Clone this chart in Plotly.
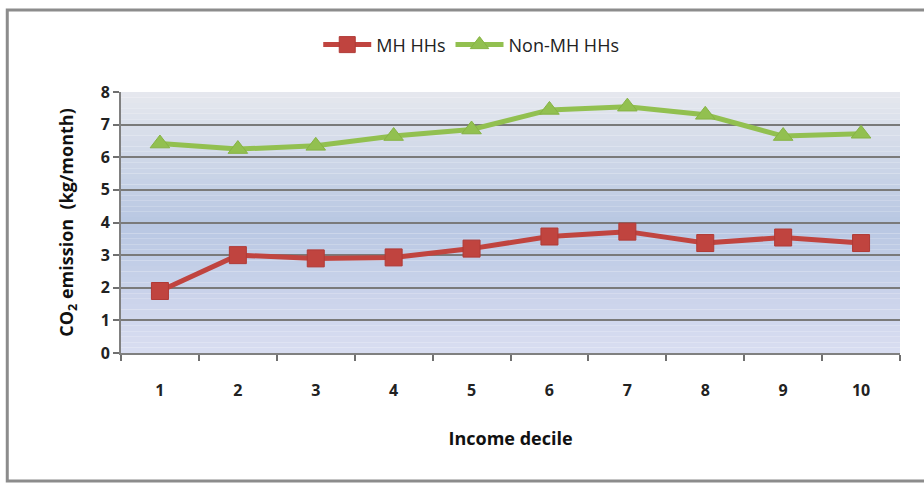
import plotly.graph_objects as go

# Income deciles and monthly CO2 emissions (kg/month)
deciles = ["1", "2", "3", "4", "5", "6", "7", "8", "9", "10"]
mh_hhs = [1.9, 3.0, 2.9, 2.93, 3.2, 3.57, 3.72, 3.37, 3.54, 3.37]
non_mh_hhs = [6.42, 6.25, 6.35, 6.65, 6.85, 7.45, 7.55, 7.3, 6.65, 6.72]
y_ticks = [0, 1, 2, 3, 4, 5, 6, 7, 8]

RED = "#c0443f"
GREEN = "#92c050"
FONT = "Open Sans"


def blend(c1, c2, t):
    a = [int(c1[i:i + 2], 16) for i in (1, 3, 5)]
    b = [int(c2[i:i + 2], 16) for i in (1, 3, 5)]
    return "#" + "".join(f"{round(x + (y - x) * t):02x}" for x, y in zip(a, b))


fig = go.Figure()
fig.add_trace(go.Scatter(
    x=deciles, y=mh_hhs, name="MH HHs", mode="lines+markers",
    line=dict(color=RED, width=5),
    marker=dict(symbol="square", size=17, color=RED,
                line=dict(color="#b03a36", width=1)),
))
fig.add_trace(go.Scatter(
    x=deciles, y=non_mh_hhs, name="Non-MH HHs", mode="lines+markers",
    line=dict(color=GREEN, width=5),
    marker=dict(symbol="triangle-up", size=17, color=GREEN,
                line=dict(color="#86b344", width=1)),
))

# smooth vertical gradient behind the plot area (top -> middle -> bottom)
stops = [(0.0, "#e6e8ee"), (0.5, "#b8c7e2"), (1.0, "#d9ddf1")]
steps = 48
shapes = []
for i in range(steps):
    t = (i + 0.5) / steps
    for (p0, c0), (p1, c1) in zip(stops[:-1], stops[1:]):
        if p0 <= t <= p1:
            col = blend(c0, c1, (t - p0) / (p1 - p0))
            break
    shapes.append(dict(
        type="rect", xref="x domain", yref="y domain",
        x0=0, x1=1, y0=1 - (i + 1) / steps, y1=1 - i / steps,
        fillcolor=col, line=dict(width=0), layer="below",
    ))
# outer chart frame
shapes.append(dict(
    type="rect", xref="paper", yref="paper",
    x0=-0.146, x1=1.04, y0=-0.49, y1=1.314,
    line=dict(color="#8c8c8c", width=3), fillcolor="rgba(0,0,0,0)",
    layer="below",
))

fig.update_layout(
    width=924, height=483,
    margin=dict(l=121, r=24, t=92, b=130, autoexpand=False),
    paper_bgcolor="white",
    plot_bgcolor="rgba(0,0,0,0)",
    font=dict(family=FONT, color="#222222", size=15),
    shapes=shapes,
    showlegend=True,
    legend=dict(
        orientation="h", xref="container", yref="container",
        x=0.51, xanchor="center", y=0.907, yanchor="middle",
        font=dict(family=FONT, size=18, color="#222222"),
        itemwidth=48, bgcolor="rgba(0,0,0,0)",
    ),
    xaxis=dict(
        type="category", range=[-0.5, 9.5],
        tickson="boundaries", ticks="outside", ticklen=6,
        tickcolor="#707070", tickwidth=2,
        showline=True, linecolor="#808080", linewidth=2,
        showgrid=False,
        ticklabelstandoff=22,
        tickfont=dict(family=FONT, size=16, color="#222222", weight="bold"),
        title=dict(text="<b>Income decile</b>",
                   font=dict(family=FONT, size=18, color="#111111"),
                   standoff=32),
    ),
    yaxis=dict(
        range=[0, 8], tickvals=y_ticks,
        ticks="outside", ticklen=6, tickcolor="#707070", tickwidth=2,
        showline=True, linecolor="#808080", linewidth=2,
        showgrid=True, gridcolor="#7a7a7a", gridwidth=2,
        zeroline=False,
        tickfont=dict(family=FONT, size=16, color="#222222", weight="bold"),
        title=dict(text="<b>CO<sub>2</sub> emission  (kg/month)</b>",
                   font=dict(family=FONT, size=18, color="#111111"),
                   standoff=22),
    ),
)

fig.write_html("out.html")
